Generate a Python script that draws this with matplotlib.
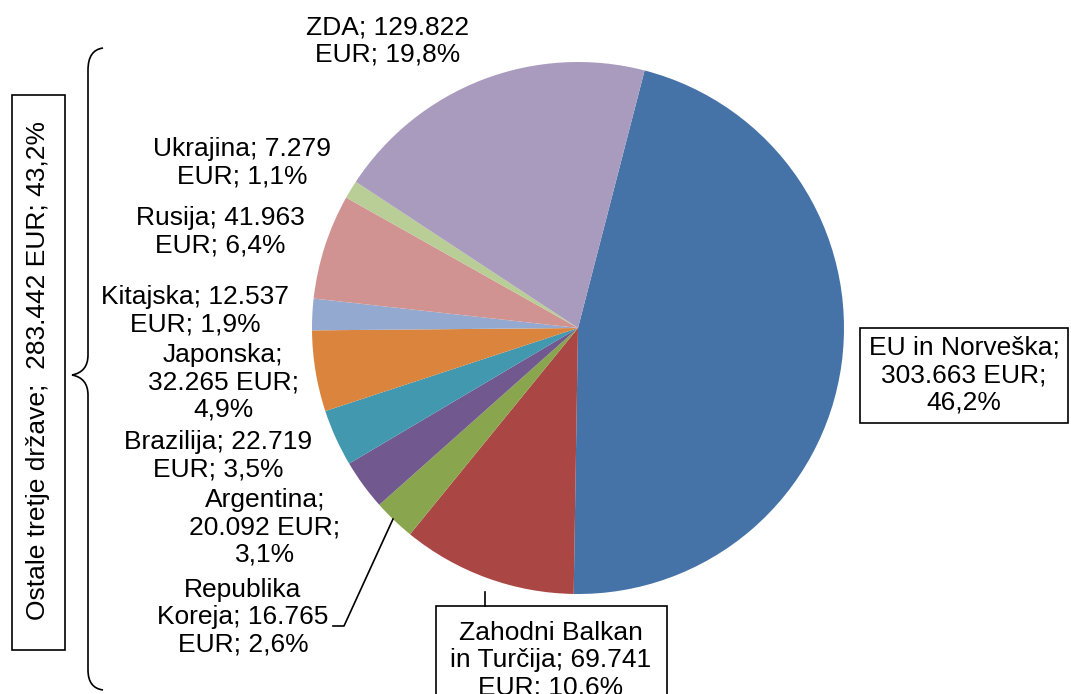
import matplotlib.pyplot as plt
from matplotlib.patches import Rectangle, PathPatch
from matplotlib.path import Path

plt.rcParams['font.family'] = ['Liberation Sans', 'DejaVu Sans']

# podatki (EUR)
drzave = ['EU in Norveška', 'Zahodni Balkan in Turčija', 'Republika Koreja', 'Argentina',
          'Brazilija', 'Japonska', 'Kitajska', 'Rusija', 'Ukrajina', 'ZDA']
vrednosti = [303663, 69741, 16765, 20092, 22719, 32265, 12537, 41963, 7279, 129822]
barve = ['#4572A7', '#AA4643', '#89A54E', '#71588F', '#4198AF',
         '#DB843D', '#93A9CF', '#D19392', '#B9CD96', '#A99BBD']
oznake = ['EU in Norveška;\n303.663 EUR;\n46,2%',
          'Zahodni Balkan\nin Turčija; 69.741\nEUR; 10,6%',
          'Republika\nKoreja; 16.765\nEUR; 2,6%',
          'Argentina;\n20.092 EUR;\n3,1%',
          'Brazilija; 22.719\nEUR; 3,5%',
          'Japonska;\n32.265 EUR;\n4,9%',
          'Kitajska; 12.537\nEUR; 1,9%',
          'Rusija; 41.963\nEUR; 6,4%',
          'Ukrajina; 7.279\nEUR; 1,1%',
          'ZDA; 129.822\nEUR; 19,8%']
ostale = 'Ostale tretje države;  283.442 EUR; 43,2%'

W, H = 1071, 694
fig = plt.figure(figsize=(10.71, 6.94), dpi=100)
ax = fig.add_axes([0, 0, 1, 1])

def Y(py):
    return H - py

ax.pie(vrednosti, colors=barve, startangle=75.5, counterclock=False,
       center=(578, Y(328)), radius=266, frame=True,
       wedgeprops=dict(linewidth=0))
ax.set_xlim(0, W)
ax.set_ylim(0, H)
ax.axis('off')

fs = 19
ls = 1.17
# polozaji oznak (px)
pos = {
    'ZDA': (388, 41),
    'Ukrajina': (242, 163),
    'Rusija': (220, 232),
    'Kitajska': (195, 311),
    'Japonska': (223, 382),
    'Brazilija': (218, 456),
    'Argentina': (265, 527),
    'Republika Koreja': (243, 617),
}
for d, lab in zip(drzave, oznake):
    if d in pos:
        x, y = pos[d]
        ax.text(x, Y(y), lab, ha='center', va='center', fontsize=fs,
                linespacing=ls)

# EU okvir
ax.add_patch(Rectangle((860, Y(423)), 208, 95, fill=False, lw=1.2, ec='black'))
ax.text(964, Y(375), oznake[0], ha='center', va='center', fontsize=fs, linespacing=ls)

# Zahodni Balkan okvir
ax.add_patch(Rectangle((436, Y(700)), 231, 94, fill=False, lw=1.2, ec='black'))
ax.text(551, Y(660), oznake[1], ha='center', va='center', fontsize=fs, linespacing=ls)
ax.plot([485, 485], [Y(592), Y(606)], color='black', lw=1.2)

# Koreja crta
ax.plot([333, 344, 393], [Y(626), Y(626), Y(519)], color='black', lw=1.2)

# Ostale okvir in zavit oklepaj
ax.add_patch(Rectangle((12, Y(650)), 53, 555, fill=False, lw=1.2, ec='black'))
ax.text(38, Y(371), ostale, rotation=90, ha='center', va='center', fontsize=fs)

verts = [(103, 48), (88, 50), (88, 70), (88, 80),
         (88, 355), (88, 372), (72, 375),
         (88, 378), (88, 395),
         (88, 670), (88, 688), (103, 690)]
codes = [Path.MOVETO, Path.CURVE3, Path.CURVE3, Path.LINETO,
         Path.LINETO, Path.CURVE3, Path.CURVE3,
         Path.CURVE3, Path.CURVE3,
         Path.LINETO, Path.CURVE3, Path.CURVE3]
verts = [(x, Y(y)) for x, y in verts]
ax.add_patch(PathPatch(Path(verts, codes), fill=False, lw=1.2, ec='black'))

fig.savefig('out.png', dpi=100)
